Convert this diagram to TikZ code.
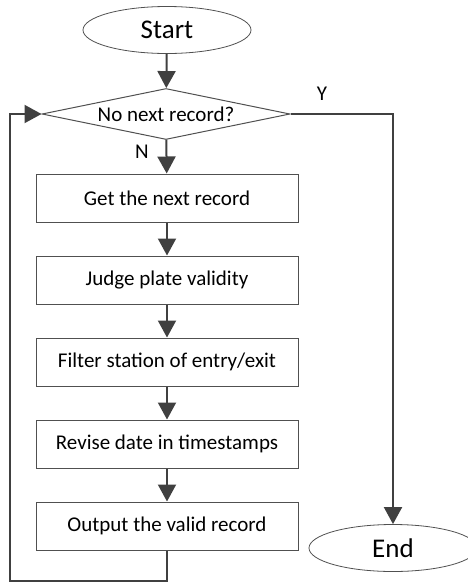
\documentclass[tikz,border=0pt]{standalone}
\usepackage{fontspec}
\setmainfont{Carlito}
\usetikzlibrary{shapes.geometric,arrows.meta}
\definecolor{lc}{HTML}{404040}
\definecolor{bc}{HTML}{505050}
\tikzset{
  stepbox/.style={draw=bc, line width=1pt, fill=white, minimum width=262pt, minimum height=48pt, inner sep=0pt, font=\fontsize{21}{25}\selectfont},
  term/.style={draw=bc, line width=0.8pt, fill=white, ellipse, minimum width=168pt, minimum height=47pt, inner sep=0pt, font=\fontsize{27}{32}\selectfont},
  decide/.style={draw=bc, line width=1pt, fill=white, diamond, aspect=4.86, minimum width=248pt, minimum height=51pt, inner sep=0pt, font=\fontsize{21}{25}\selectfont},
  conn/.style={draw=lc, line width=2pt, -{Triangle[length=17pt,width=18pt]}},
  lab/.style={font=\fontsize{21}{25}\selectfont, inner sep=0pt}
}
\begin{document}
\begin{tikzpicture}[x=1pt,y=-1pt]
\useasboundingbox (0,0) rectangle (468,582);
\node[term] (start) at (167,30) {Start};
\node[decide] (dec) at (166,114) {No next record?};
\node[stepbox] (b1) at (167,198) {Get the next record};
\node[stepbox] (b2) at (167,280) {Judge plate validity};
\node[stepbox] (b3) at (167,362) {Filter station of entry/exit};
\node[stepbox] (b4) at (167,444) {Revise date in timestamps};
\node[stepbox] (b5) at (167,526) {Output the valid record};
\node[term] (end) at (393,548) {End};
\node[lab] (ylab) at (322,94) {Y};
\node[lab] (nlab) at (142,152) {N};
\coordinate (lb) at (10,581);
\coordinate (lt) at (10,114);
\draw[conn] (start) -- (dec);
\draw[conn] (dec) -- (b1);
\draw[conn] (b1) -- (b2);
\draw[conn] (b2) -- (b3);
\draw[conn] (b3) -- (b4);
\draw[conn] (b4) -- (b5);
\draw[conn] (dec.east) -| (end.north);
\draw[conn] (b5.south) |- (lb) -- (lt) -- (dec.west);
\end{tikzpicture}
\end{document}
